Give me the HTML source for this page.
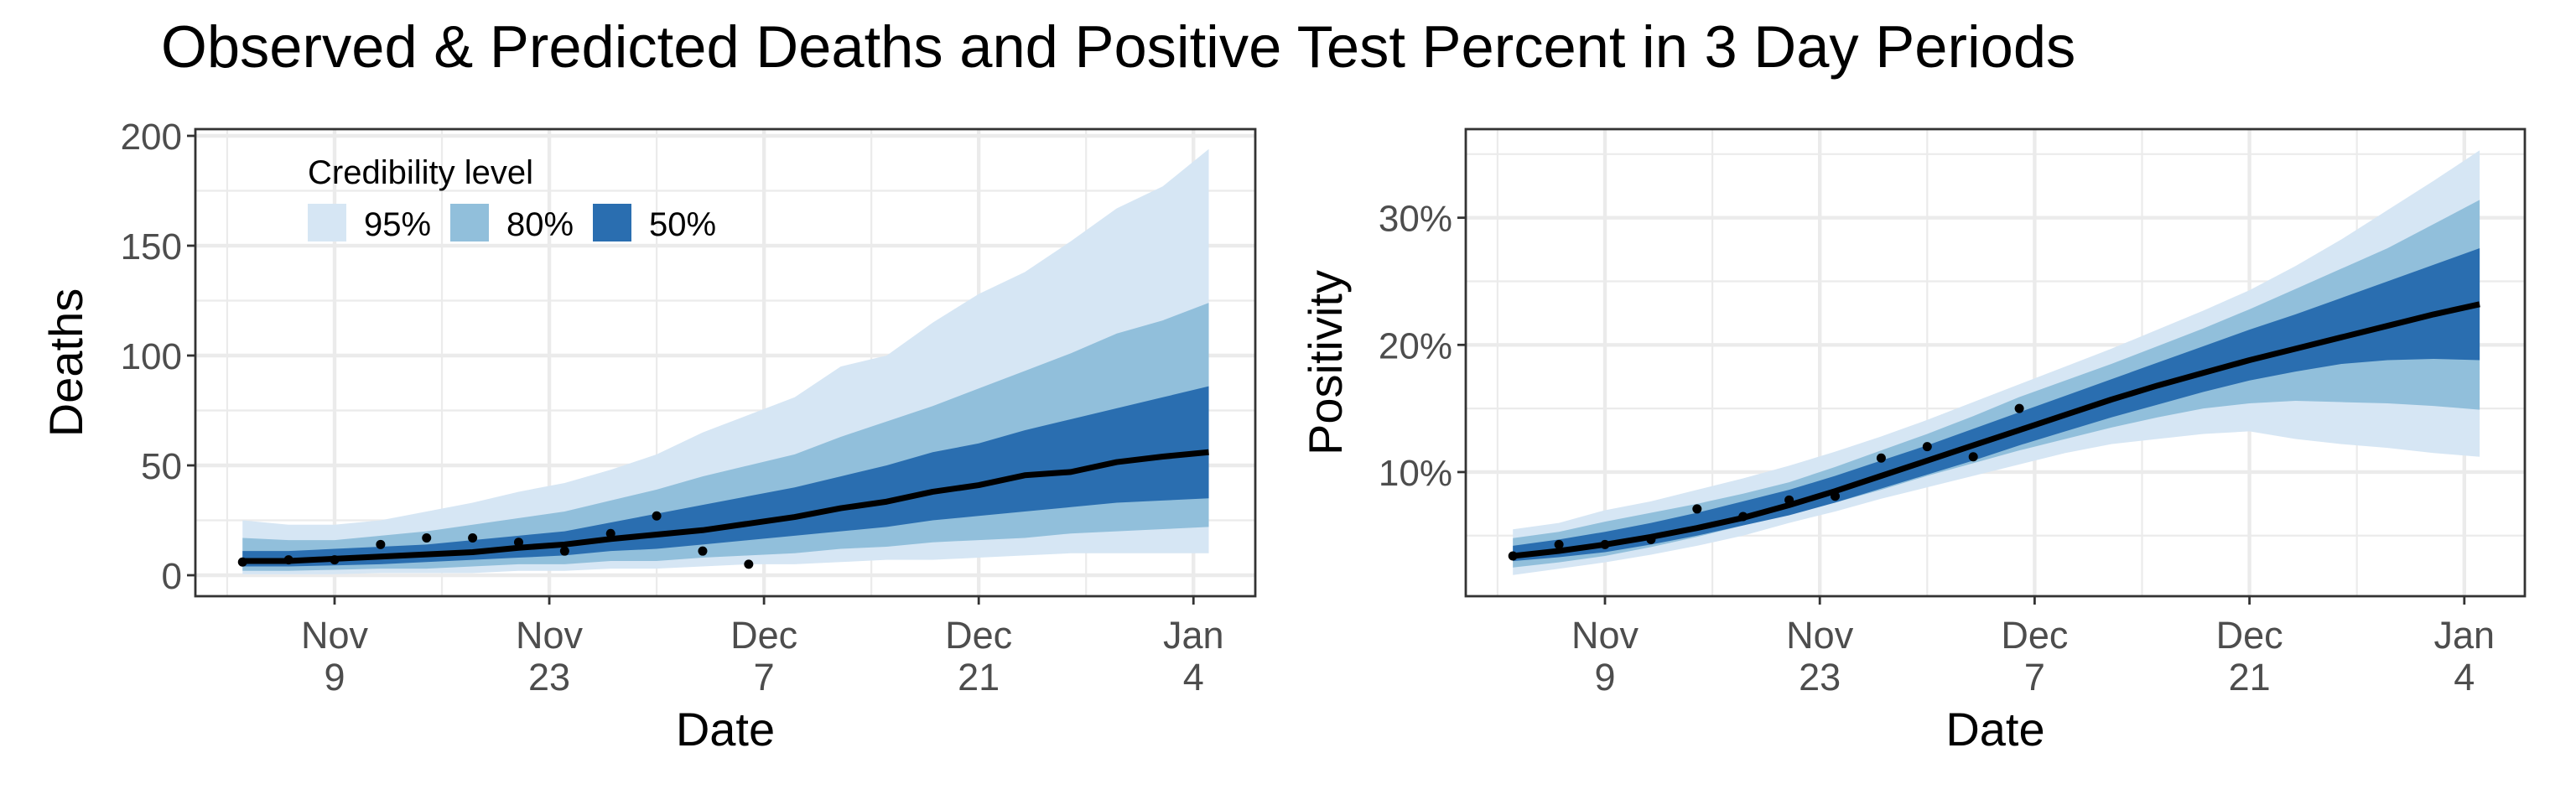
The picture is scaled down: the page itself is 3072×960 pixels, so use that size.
<!DOCTYPE html>
<html><head><meta charset="utf-8">
<style>
html,body{margin:0;padding:0;background:#fff;}
svg{display:block;font-family:"Liberation Sans",Arial,sans-serif;}
</style></head>
<body>
<svg id="chart" width="3072" height="960" viewBox="0 0 3072 960" xmlns="http://www.w3.org/2000/svg">
<rect width="3072" height="960" fill="#fff"/>
<text x="192" y="80" font-size="70.5" fill="#000">Observed &amp; Predicted Deaths and Positive Test Percent in 3 Day Periods</text>
<g id="left"></g>
<g id="right"></g>
</svg>
<script>
// day offsets relative to Nov 9
const days = [-6,-3,0,3,6,9,12,15,18,21,24,27,30,33,36,39,42,45,48,51,54,57];
const obsDays = [-6,-3,0,3,6,9,12,15,18,21,24,27];
const xTickDays = [0,14,28,42,56];
const xTickMonth = ["Nov","Nov","Dec","Dec","Jan"];
const xTickDay = ["9","23","7","21","4"];
const xMinorDays = [-7,7,21,35,49];

// Deaths
const deathsObs = [6,7,7,14,17,17,15,11,19,27,11,5];
const deathsMed = [6.5,6.5,7.5,8.5,9.5,10.5,12.5,14,16.5,18.5,20.5,23.5,26.5,30.5,33.5,38,41,45.5,47,51.5,54,56];
const deathsU95 = [25,23,23,25,29,33,38,42,48,55,65,73,81,95,100,115,128,138,152,167,177,194];
const deathsU80 = [17,16,16,18,20,23,26,29,34,39,45,50,55,63,70,77,85,93,101,110,116,124];
const deathsU50 = [11,11,12,13,14,16,18,20,24,28,32,36,40,45,50,56,60,66,71,76,81,86];
const deathsL50 = [4,4,4.5,5,6,7,8,9,11,12,14,16,18,20,22,25,27,29,31,33,34,35];
const deathsL80 = [2,2,2.5,3,3,4,5,5,6.5,6.5,8,9,10,12,13,15,16,17,19,20,21,22];
const deathsL95 = [0.5,0.5,0.5,1,1,1,2,2,3,3,4,5,5,6,7,7,8,9,10,10,10,10];
const deathsTicks = [0,50,100,150,200];
const deathsTickLabels = ["0","50","100","150","200"];
const deathsMinor = [25,75,125,175];

// Positivity (%)
const posObs = [3.4,4.3,4.3,4.7,7.1,6.5,7.8,8.1,11.1,12.0,11.2,15.0];
const posMed = [3.4,3.8,4.3,4.9,5.6,6.4,7.4,8.5,9.7,10.9,12.1,13.3,14.5,15.7,16.8,17.8,18.8,19.7,20.6,21.5,22.4,23.2];
const posU95 = [5.5,6.0,7.0,7.7,8.6,9.5,10.5,11.6,12.8,14.1,15.5,16.9,18.3,19.7,21.2,22.7,24.3,26.2,28.3,30.6,32.9,35.3];
const posU80 = [4.8,5.3,6.1,6.8,7.5,8.3,9.2,10.4,11.7,13.0,14.4,15.9,17.2,18.5,19.9,21.3,22.8,24.4,26.0,27.6,29.5,31.4];
const posU50 = [4.2,4.7,5.3,6.0,6.8,7.7,8.6,9.7,10.9,12.1,13.4,14.7,16.0,17.3,18.6,19.9,21.2,22.4,23.7,25.0,26.3,27.6];
const posL50 = [3.0,3.3,3.7,4.3,5.0,5.8,6.6,7.6,8.7,9.8,10.9,12.1,13.2,14.3,15.3,16.3,17.2,17.9,18.5,18.8,18.9,18.8];
const posL80 = [2.5,2.9,3.4,4.1,4.9,5.8,6.7,7.6,8.6,9.7,10.7,11.7,12.6,13.5,14.3,15.0,15.4,15.6,15.5,15.4,15.2,14.9];
const posL95 = [1.9,2.4,2.9,3.5,4.2,5.0,6.0,6.9,7.9,8.8,9.7,10.6,11.5,12.2,12.6,13.0,13.2,12.6,12.2,11.9,11.5,11.2];
const posTicks = [10,20,30];
const posTickLabels = ["10%","20%","30%"];
const posMinor = [5,15,25,35];

const NS = "http://www.w3.org/2000/svg";
const C95 = "#d6e6f4", C80 = "#91bfdb", C50 = "#2a6eb0";

function mk(parent, tag, attrs) {
  const e = document.createElementNS(NS, tag);
  for (const k in attrs) e.setAttribute(k, attrs[k]);
  parent.appendChild(e);
  return e;
}

function drawPanel(g, cfg) {
  const {L,R,T,B,x0,pxDay,y0,pxUnit} = cfg;
  const X = d => x0 + d * pxDay;
  const Y = v => y0 - v * pxUnit;
  const clip = mk(g, "clipPath", {id: cfg.id + "-clip"});
  mk(clip, "rect", {x: L, y: T, width: R - L, height: B - T});
  const plot = mk(g, "g", {"clip-path": "url(#" + cfg.id + "-clip)"});
  
  
  cfg.minor.forEach(v => {
    const l = mk(plot, "line", {x1: L, x2: R, y1: Y(v), y2: Y(v), stroke: "#ebebeb", "stroke-width": 2.2});
    
    
  });
  xMinorDays.forEach(d => {
    const l = mk(plot, "line", {x1: X(d), x2: X(d), y1: T, y2: B, stroke: "#ebebeb", "stroke-width": 2.2});
    
    
  });
  cfg.ticks.forEach(v => {
    const l = mk(plot, "line", {x1: L, x2: R, y1: Y(v), y2: Y(v), stroke: "#ebebeb", "stroke-width": 4.4});
    
    
  });
  xTickDays.forEach(d => {
    const l = mk(plot, "line", {x1: X(d), x2: X(d), y1: T, y2: B, stroke: "#ebebeb", "stroke-width": 4.4});
    
    
  });
  const band = (up, lo, col, name) => {
    let d = "M" + days.map((dd, i) => X(dd) + "," + Y(up[i])).join("L");
    d += "L" + days.slice().reverse().map((dd, j) => X(dd) + "," + Y(lo[days.length - 1 - j])).join("L") + "Z";
    const p = mk(plot, "path", {d: d, fill: col});
    
    
  };
  band(cfg.u95, cfg.l95, C95, "band-95");
  band(cfg.u80, cfg.l80, C80, "band-80");
  band(cfg.u50, cfg.l50, C50, "band-50");
  const med = mk(plot, "polyline", {points: days.map((dd, i) => X(dd) + "," + Y(cfg.med[i])).join(" "), fill: "none", stroke: "#000", "stroke-width": 7, "stroke-linejoin": "round"});
  
  
  cfg.obs.forEach((v, i) => {
    const c = mk(plot, "circle", {cx: X(obsDays[i]), cy: Y(v), r: 5.5, fill: "#000"});
    
    
  });
  const br = mk(g, "rect", {x: L, y: T, width: R - L, height: B - T, fill: "none", stroke: "#333", "stroke-width": 2.8});
  
  
  cfg.ticks.forEach((v, i) => {
    const t = mk(g, "line", {x1: L - 10, x2: L, y1: Y(v), y2: Y(v), stroke: "#333", "stroke-width": 2.8});
    
    
    const tx = mk(g, "text", {x: L - 16, y: Y(v) + 16, "text-anchor": "end", "font-size": 44, fill: "#4d4d4d"});
    tx.textContent = cfg.tickLabels[i];
    
    
  });
  xTickDays.forEach((d, i) => {
    const t = mk(g, "line", {x1: X(d), x2: X(d), y1: B, y2: B + 10, stroke: "#333", "stroke-width": 2.8});
    
    
    const t1 = mk(g, "text", {x: X(d), y: 773, "text-anchor": "middle", "font-size": 45, fill: "#4d4d4d"});
    t1.textContent = xTickMonth[i];
    
    
    const t2 = mk(g, "text", {x: X(d), y: 823, "text-anchor": "middle", "font-size": 45, fill: "#4d4d4d"});
    t2.textContent = xTickDay[i];
    
    
  });
  const xt = mk(g, "text", {x: (L + R) / 2, y: 889, "text-anchor": "middle", "font-size": 56, fill: "#000"});
  xt.textContent = "Date";
  
  
  const yt = mk(g, "text", {x: 0, y: 0, "text-anchor": "middle", "font-size": 56, fill: "#000", transform: "translate(" + cfg.ytX + "," + (T + B) / 2 + ") rotate(-90)"});
  yt.textContent = cfg.ytitle;
  
  
}

drawPanel(document.getElementById("left"), {
  id: "deaths", L: 233, R: 1497, T: 154, B: 711, x0: 399, pxDay: 18.29, y0: 686, pxUnit: 2.62,
  u95: deathsU95, u80: deathsU80, u50: deathsU50, l50: deathsL50, l80: deathsL80, l95: deathsL95,
  med: deathsMed, obs: deathsObs, ticks: deathsTicks, tickLabels: deathsTickLabels, minor: deathsMinor,
  ytitle: "Deaths", ytX: 98
});
drawPanel(document.getElementById("right"), {
  id: "pos", L: 1748, R: 3011, T: 154, B: 711, x0: 1914, pxDay: 18.3, y0: 714.6, pxUnit: 15.165,
  u95: posU95, u80: posU80, u50: posU50, l50: posL50, l80: posL80, l95: posL95,
  med: posMed, obs: posObs, ticks: posTicks, tickLabels: posTickLabels, minor: posMinor,
  ytitle: "Positivity", ytX: 1600
});

const lg = mk(document.getElementById("left"), "g", {});


const lt = mk(lg, "text", {x: 367, y: 219, "font-size": 40, fill: "#000"});
lt.textContent = "Credibility level";


const legLabels = ["95%","80%","50%"];
const legCols = [C95, C80, C50];
const legX = [367, 537, 707];
legLabels.forEach((s, i) => {
  const r = mk(lg, "rect", {x: legX[i], y: 243, width: 46, height: 45, fill: legCols[i]});
  
  
  const t = mk(lg, "text", {x: legX[i] + 67, y: 281, "font-size": 40, fill: "#000"});
  t.textContent = s;
  
  
});
</script>
</body></html>
